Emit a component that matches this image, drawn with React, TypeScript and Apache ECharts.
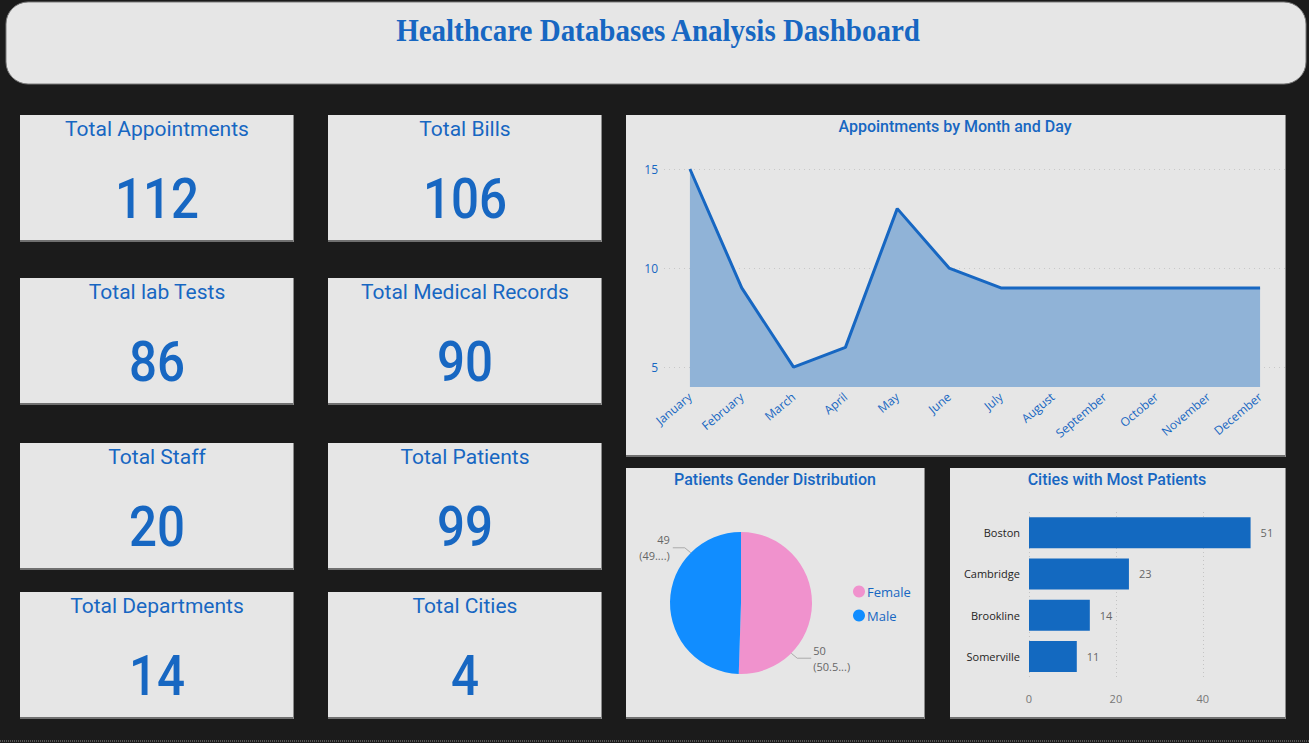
import React, { useEffect, useRef } from "react";
import * as echarts from "echarts";

// KPI cards
const kpiLabels = [
  "Total Appointments",
  "Total Bills",
  "Total lab Tests",
  "Total Medical Records",
  "Total Staff",
  "Total Patients",
  "Total Departments",
  "Total Cities",
];
const kpiValues = [112, 106, 86, 90, 20, 99, 14, 4];

// Appointments per month
const months = [
  "January", "February", "March", "April", "May", "June",
  "July", "August", "September", "October", "November", "December",
];
const appointments = [15, 9, 5, 6, 13, 10, 9, 9, 9, 9, 9, 9];
const appointmentTicks = [5, 10, 15];

// Gender split
const genders = ["Female", "Male"];
const genderCounts = [50, 49];

// Patients by city
const cities = ["Boston", "Cambridge", "Brookline", "Somerville"];
const cityPatients = [51, 23, 14, 11];

const BLUE = "#1767c2";
const PANEL = "#e6e6e6";
const TITLE_FONT = "Roboto, 'Noto Sans', sans-serif";
const LABEL_FONT = "'Open Sans', 'Noto Sans', sans-serif";

const PIE_CX = 741;
const PIE_CY = 603;
const PIE_R = 71;

function panel(x: number, y: number, w: number, h: number) {
  return [
    { type: "rect", z: -20, shape: { x, y, width: w, height: h }, style: { fill: PANEL } },
    { type: "rect", z: -19, shape: { x, y: y + h - 2, width: w, height: 2 }, style: { fill: "#707070" } },
    { type: "rect", z: -19, shape: { x: x + w - 1, y, width: 1, height: h }, style: { fill: "#8a8a8a" } },
  ];
}

function panelTitle(text: string, cx: number, cy: number, size = 16, weight = 400) {
  return {
    type: "text",
    z: 10,
    x: cx,
    y: cy,
    style: {
      text,
      fill: BLUE,
      font: `${weight} ${size}px ${TITLE_FONT}`,
      align: "center",
      verticalAlign: "middle",
    },
  };
}

export default function App() {
  const ref = useRef<HTMLDivElement>(null);

  useEffect(() => {
    if (!ref.current) return;
    const chart = echarts.init(ref.current, undefined, { renderer: "svg" });

    const cardX = [20, 328];
    const cardY = [115, 278, 443, 592];
    const cardW = 274;
    const cardH = 127;

    const graphics: any[] = [];

    // header banner
    graphics.push({
      type: "rect",
      z: -20,
      shape: { x: 6, y: 2, width: 1300, height: 82, r: 22 },
      style: { fill: PANEL, stroke: "#7a7a7a", lineWidth: 1 },
    });
    graphics.push({
      type: "text",
      z: 10,
      x: 658,
      y: 31,
      scaleY: 1.08,
      style: {
        text: "Healthcare Databases Analysis Dashboard",
        fill: BLUE,
        font: "bold 29px 'Liberation Serif', 'DejaVu Serif', serif",
        align: "center",
        verticalAlign: "middle",
      },
    });

    kpiLabels.forEach((label, i) => {
      const x = cardX[i % 2];
      const y = cardY[Math.floor(i / 2)];
      graphics.push(...panel(x, y, cardW, cardH));
      graphics.push(panelTitle(label, x + cardW / 2, y + 14, 21, 400));
      graphics.push({
        type: "text",
        z: 10,
        x: x + cardW / 2,
        y: y + 84,
        scaleX: 0.88,
        style: {
          text: String(kpiValues[i]),
          fill: BLUE,
          font: `500 56px ${TITLE_FONT}`,
          align: "center",
          verticalAlign: "middle",
        },
      });
    });

    // chart panels
    graphics.push(...panel(626, 115, 660, 342));
    graphics.push(panelTitle("Appointments by Month and Day", 955, 126, 16, 500));
    graphics.push(...panel(626, 468, 299, 251));
    graphics.push(panelTitle("Patients Gender Distribution", 775, 479, 16, 500));
    graphics.push(...panel(950, 468, 336, 251));
    graphics.push(panelTitle("Cities with Most Patients", 1117, 479, 16, 500));

    // bottom dotted border
    graphics.push({
      type: "line",
      z: -10,
      shape: { x1: 0, y1: 741, x2: 1309, y2: 741 },
      style: { stroke: "#555", lineWidth: 2, lineDash: [1, 1] },
    });

    const genderTotal = genderCounts.reduce((a, b) => a + b, 0);

    // Pie labels sit on the diagonals: first slice lower-right, second upper-left
    const pieLabelLayout = (p: any) => {
      const right = p.dataIndex === 0;
      const ang = right ? -Math.PI / 4 : (3 * Math.PI) / 4;
      const ex = PIE_CX + PIE_R * Math.cos(ang);
      const ey = PIE_CY - PIE_R * Math.sin(ang);
      const kx = ex + (right ? 6 : -6);
      const ky = ey + (right ? 5 : -5);
      const tx = kx + (right ? 14 : -12);
      return {
        x: tx + (right ? 2 : -3),
        y: ky,
        align: right ? "left" : "right",
        verticalAlign: "middle",
        labelLinePoints: [
          [ex, ey],
          [kx, ky],
          [tx, ky],
        ],
      };
    };

    const option: any = {
      animation: false,
      backgroundColor: "#1b1b1b",
      graphic: graphics,
      grid: [
        { left: 664, top: 169, width: 622, height: 218 },
        { left: 1029, top: 512, width: 252, height: 165 },
      ],
      xAxis: [
        {
          type: "category",
          gridIndex: 0,
          data: months,
          boundaryGap: true,
          axisLine: { show: false },
          axisTick: { show: false },
          axisLabel: {
            rotate: 40,
            margin: 8,
            color: BLUE,
            fontSize: 12,
            fontFamily: LABEL_FONT,
            interval: 0,
          },
        },
        {
          type: "value",
          gridIndex: 1,
          min: 0,
          max: 58,
          interval: 20,
          axisLine: { show: false },
          axisTick: { show: false },
          axisLabel: {
            color: "#777",
            fontSize: 11,
            fontFamily: LABEL_FONT,
            margin: 16,
            showMaxLabel: false,
          },
          splitLine: {
            show: true,
            showMaxLine: false,
            lineStyle: { color: "#c4c4c4", type: [1, 3], width: 1 },
          },
        },
      ],
      yAxis: [
        {
          type: "value",
          gridIndex: 0,
          min: 4,
          max: 15,
          interval: 1,
          axisLine: { show: false },
          axisTick: { show: false },
          splitLine: { show: false },
          axisLabel: {
            color: BLUE,
            fontSize: 12,
            fontFamily: LABEL_FONT,
            margin: 6,
            formatter: (v: number) => (appointmentTicks.includes(v) ? String(v) : ""),
          },
        },
        {
          type: "category",
          gridIndex: 1,
          data: cities,
          inverse: true,
          axisLine: { show: false },
          axisTick: { show: false },
          axisLabel: {
            color: "#252423",
            fontSize: 11,
            fontFamily: LABEL_FONT,
            margin: 9,
          },
        },
      ],
      legend: {
        orient: "vertical",
        left: 848,
        top: 580,
        data: genders,
        icon: "circle",
        itemWidth: 12,
        itemHeight: 12,
        itemGap: 11,
        textStyle: { color: BLUE, fontSize: 13, fontFamily: LABEL_FONT, padding: [0, 0, 0, -3] },
      },
      series: [
        {
          type: "line",
          xAxisIndex: 0,
          yAxisIndex: 0,
          data: appointments,
          symbol: "none",
          lineStyle: { color: BLUE, width: 3 },
          itemStyle: { color: BLUE },
          areaStyle: { color: "#90b3d7", opacity: 1, origin: "start" },
          markLine: {
            silent: true,
            symbol: "none",
            label: { show: false },
            lineStyle: { color: "#c8c8c8", type: [1, 4], width: 1 },
            data: appointmentTicks.map((t) => ({ yAxis: t })),
            z: 1,
          },
        },
        {
          type: "pie",
          center: [PIE_CX, PIE_CY],
          radius: PIE_R,
          startAngle: 90,
          clockwise: true,
          data: genders.map((g, i) => ({ name: g, value: genderCounts[i] })),
          color: ["#f092cd", "#118dff"],
          label: {
            show: true,
            position: "outside",
            color: "#666",
            fontSize: 11,
            lineHeight: 16,
            fontFamily: LABEL_FONT,
            formatter: (p: any) => {
              const pct = ((p.value / genderTotal) * 100).toFixed(2);
              const keep = p.dataIndex === 0 ? 4 : 3;
              return `${p.value}\n(${pct.slice(0, keep)}...)`;
            },
          },
          labelLine: {
            show: true,
            lineStyle: { color: "#aaa", width: 1 },
          },
          labelLayout: pieLabelLayout,
        },
        {
          type: "bar",
          xAxisIndex: 1,
          yAxisIndex: 1,
          data: cityPatients,
          barWidth: 31,
          itemStyle: { color: "#1369c0" },
          label: {
            show: true,
            position: "right",
            distance: 10,
            color: "#666",
            fontSize: 11,
            fontFamily: LABEL_FONT,
          },
        },
      ],
    };

    chart.setOption(option);
    return () => chart.dispose();
  }, []);

  return (
    <div
      ref={ref}
      style={{ position: "fixed", left: 0, top: 0, width: 1309, height: 743 }}
    />
  );
}
